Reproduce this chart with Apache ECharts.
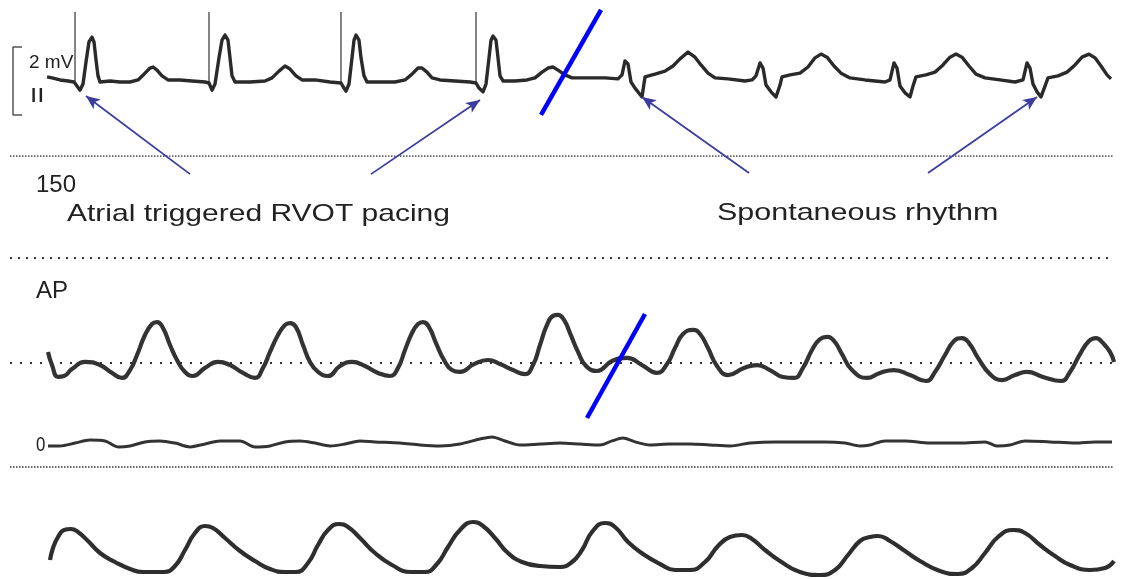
<!DOCTYPE html>
<html><head><meta charset="utf-8">
<style>html,body{margin:0;padding:0;background:#fff}#c{width:1124px;height:579px}</style>
<script src="https://cdn.jsdelivr.net/npm/echarts@6/dist/echarts.min.js"></script>
</head><body><div id="c"></div>
<script>
// ---- ECG lead II: [time (samples), mV]
const ecgTrace = [[47,0.18],[52,0.15],[60,0.09],[68,0.06],[74,0.03],[77,-0.09],[80,-0.21],[83,-0.03],[86,0.62],[89,1.21],[92,1.35],[94,1.21],[96,0.68],[98,0.21],[100,0.03],[110,0.06],[120,0.03],[130,0.03],[138,0.09],[144,0.26],[150,0.44],[153,0.47],[157,0.38],[162,0.21],[168,0.09],[180,0.09],[192,0.06],[205,0.03],
[209,0],[212,-0.21],[215,-0.03],[219,0.74],[222,1.26],[225,1.41],[228,1.26],[230,0.74],[232,0.21],[235,0.03],[250,0.03],[265,0.06],[272,0.15],[279,0.35],[285,0.50],[290,0.41],[296,0.21],[302,0.09],[315,0.09],[330,0.03],
[341,0],[344,-0.15],[346,-0.24],[349,-0.03],[352,0.74],[354,1.26],[356,1.41],[359,1.26],[361,0.74],[364,0.21],[367,0.03],[380,0.03],[395,0.03],[405,0.09],[412,0.26],[418,0.44],[422,0.44],[427,0.32],[432,0.15],[440,0.09],[455,0.06],[470,0.03],
[476,0],[479,-0.15],[483,-0.26],[486,-0.03],[489,0.74],[491,1.26],[493,1.38],[496,1.26],[498,0.74],[500,0.21],[503,0.06],[515,0.06],[527,0.09],[535,0.15],[542,0.32],[548,0.44],[553,0.47],[558,0.38],[565,0.24],[572,0.15],[590,0.15],[605,0.15],
[618,0.12],[622,0.24],[625,0.65],[628,0.56],[631,0.03],[635,-0.15],[642,-0.41],[645,0.18],[655,0.26],[665,0.35],[673,0.50],[680,0.71],[688,0.91],[695,0.76],[701,0.53],[708,0.29],[715,0.15],[728,0.12],[745,0.06],
[752,0.09],[756,0.21],[760,0.59],[763,0.44],[766,-0.06],[771,-0.26],[776,-0.41],[780,-0.06],[782,0.18],[790,0.24],[800,0.29],[808,0.47],[815,0.74],[821,0.85],[827,0.76],[834,0.50],[841,0.29],[850,0.15],[865,0.09],[885,0.03],
[890,0.09],[894,0.59],[897,0.44],[900,-0.09],[905,-0.29],[910,-0.41],[913,-0.09],[916,0.18],[926,0.24],[935,0.32],[943,0.53],[950,0.76],[956,0.85],[962,0.76],[969,0.50],[976,0.26],[985,0.15],[1000,0.09],[1015,0.03],
[1023,0.09],[1027,0.59],[1030,0.44],[1033,-0.03],[1037,-0.26],[1041,-0.41],[1045,-0.09],[1048,0.15],[1058,0.21],[1067,0.32],[1075,0.53],[1082,0.76],[1089,0.85],[1095,0.74],[1101,0.50],[1107,0.24],[1111,0.12]];
const pacingTimes = [75, 209, 341, 476];
const pacingSpikeMv = 2.09;
const scaleBar = [[22,1.06],[13,1.06],[13,-0.94],[22,-0.94]];

// ---- Arterial pressure: [time, mmHg]
const apTrace = [[48,48.3],[52,41.5],[58,35.3],[64,35.8],[72,39.4],[85,43.1],[100,41.5],[112,37.4],[122,34.8],[130,38.9],[137,46.7],[145,57.1],[152,62.8],[157,63.8],[163,60.7],[170,51.9],[177,44.1],[185,37.9],[193,35.8],[205,40.0],[218,43.1],[230,41.5],[243,37.4],[255,34.8],
[263,40.0],[270,48.3],[278,57.1],[285,62.3],[290,63.3],[296,61.2],[303,51.9],[310,43.1],[318,37.9],[328,35.8],[340,41.0],[352,43.1],[365,41.0],[378,37.4],[390,35.8],
[398,40.0],[405,49.3],[412,58.1],[418,62.8],[423,63.8],[429,61.2],[436,52.9],[444,44.1],[452,38.9],[460,37.9],[474,42.0],[488,44.1],[500,42.0],[513,38.9],[525,36.8],
[533,41.5],[540,51.9],[547,62.3],[553,67.0],[558,67.5],[564,64.9],[570,58.1],[578,48.3],[586,41.0],[597,38.4],[612,43.6],[627,45.2],[642,41.5],[657,37.4],
[667,42.0],[675,50.3],[683,57.6],[693,59.7],[700,57.6],[708,50.3],[717,41.0],[728,36.3],[744,40.0],[757,41.5],[770,38.9],[783,35.3],[794,34.8],
[803,40.0],[812,49.3],[820,55.0],[827,56.1],[834,54.0],[842,47.2],[852,38.9],[867,34.8],[880,37.4],[894,38.9],[910,36.3],[926,33.2],
[935,37.9],[945,46.7],[954,54.0],[962,55.5],[969,52.9],[978,45.2],[990,36.8],[1002,33.7],[1015,36.3],[1027,37.9],[1043,35.3],[1061,33.2],
[1070,37.9],[1080,47.2],[1089,54.0],[1096,55.5],[1103,52.9],[1110,48.3],[1114,43.1]];
const apZeroTrace = [[48,-0.5],[60,-0.5],[75,1.0],[90,2.6],[105,2.1],[118,-1.0],[130,-0.5],[145,1.6],[160,2.1],[175,1.0],[190,-1.0],[205,0.5],[220,2.1],[240,2.1],[255,-1.0],[270,-0.5],[285,1.6],[300,2.1],[315,1.0],[330,-0.5],[345,0.5],[360,2.1],[375,1.6],[400,1.0],[420,0],[440,-0.5],[460,0.5],[480,3.1],[492,4.2],[505,2.1],[520,0],[540,0.5],[560,1.0],[580,0.5],[600,0],[612,2.1],[623,3.6],[635,1.6],[650,0],[670,0.5],[690,0.5],[710,0],[730,-0.5],[750,1.0],[775,1.6],[800,1.6],[825,1.6],[845,1.0],[860,-0.5],[870,0],[885,2.1],[905,2.1],[930,1.0],[960,1.0],[985,1.6],[997,-0.5],[1010,0],[1025,2.1],[1050,1.6],[1075,1.0],[1095,1.6],[1112,1.6]];
const refLevels = [150, 97, 42.6, -11.4];

// ---- Lower trace: [time, units]
const lowTrace = [[50,19],[53,31],[58,42],[64,49],[71,50],[78,47],[88,38],[100,26],[115,17],[130,10],[143,7],[164,7],[175,13],[185,29],[195,46],[205,53],[213,51],[225,41],[240,28],[255,18],[270,10],[285,7],[296,7],[308,16],[318,34],[328,49],[339,55],[348,52],[360,41],[375,26],[392,14],[411,7],[425,7],[437,15],[448,32],[460,49],[473,57],[483,53],[495,41],[508,26],[522,17],[540,13],[560,12],[572,17],[582,29],[592,47],[605,56],[615,52],[628,37],[643,25],[660,15],[675,9],[690,9],[705,17],[718,33],[730,42],[742,44],[752,40],[765,29],[780,18],[800,7],[820,4],[835,9],[848,24],[860,38],[870,42],[878,43],[890,38],[905,28],[920,18],[940,8],[958,5],[972,11],[985,26],[998,42],[1013,49],[1025,46],[1040,34],[1055,23],[1070,14],[1090,9],[1105,11],[1114,18]];

// ---- Annotations
const arrows = [ {tail:[190,-2.68], head:[86,-0.38]}, {tail:[371,-2.68], head:[480,-0.50]},
                 {tail:[749,-2.65], head:[642,-0.41]}, {tail:[928,-2.65], head:[1037,-0.41]} ];
const ecgSlash = [[541,-0.94],[601,2.15]];
const apSlash = [[587,14.0],[645,68.0]];

const FONT = 'Liberation Sans, Arial, Helvetica, sans-serif';
const INK = '#2a2a2a';
const chart = echarts.init(document.getElementById('c'), null, {renderer:'canvas'});
const xAx = gi => ({type:'value', gridIndex:gi, min:0, max:1124, show:false});
const spikeData = [];
pacingTimes.forEach(t => { spikeData.push([t, 0]); spikeData.push([t, pacingSpikeMv]); spikeData.push([t, '-']); });
const refStyles = [{type:[1.5,1.5],width:1.6},{type:[2,6],width:2},{type:[2,8],width:2},{type:[1.5,1.5],width:1.6}];
const refSeries = refLevels.map((lv,i) => ({type:'line', xAxisIndex:1, yAxisIndex:1, symbol:'none', silent:true,
  data:[[10,lv],[1114,lv]], lineStyle:Object.assign({color:'#333'}, refStyles[i]), z:1}));
const txt = (text, x, y, size, sx, extra) => Object.assign({type:'text', x:x, y:y, scaleX:sx||1, z:0,
  style:{text:text, fontSize:size, fontFamily:FONT, fill:'#222', align:'left', verticalAlign:'middle'}}, extra||{});

chart.setOption({
  animation:false,
  backgroundColor:'#ffffff',
  grid:[{left:0,right:0,top:1.4,height:183.6},{left:0,right:0,top:156,height:312.1},{left:0,right:0,top:479,height:100}],
  xAxis:[xAx(0),xAx(1),xAx(2)],
  yAxis:[{type:'value',gridIndex:0,min:-3,max:2.4,show:false},
         {type:'value',gridIndex:1,min:-12,max:150,show:false},
         {type:'value',gridIndex:2,min:0,max:100,show:false}],
  graphic:[
    txt('2 mV', 29, 63, 19, 1),
    txt('II', 30, 96, 20, 1.3),
    txt('150', 36, 185, 24, 1),
    txt('Atrial triggered RVOT pacing', 67, 214, 24, 1.25),
    txt('Spontaneous rhythm', 717, 213, 24, 1.27),
    txt('AP', 36, 291, 24, 1),
    txt('0', 36, 445, 21, 0.8)
  ],
  series:[
    ...refSeries,
    {name:'scale', type:'line', xAxisIndex:0, yAxisIndex:0, symbol:'none', silent:true, data:scaleBar,
     lineStyle:{color:'#555', width:1.5}},
    {name:'pacing', type:'line', xAxisIndex:0, yAxisIndex:0, symbol:'none', silent:true, connectNulls:false, data:spikeData,
     lineStyle:{color:'#333', width:1.2}},
    {name:'ECG II', type:'line', xAxisIndex:0, yAxisIndex:0, symbol:'none', silent:true, data:ecgTrace,
     lineStyle:{color:INK, width:3.4, join:'round'}, z:3,
     markLine:{silent:true, symbol:['none','arrow'], symbolSize:[9,14], label:{show:false},
       lineStyle:{color:'#3c3c9e', width:1.8, type:'solid'},
       data: arrows.map(a => [{coord:a.tail},{coord:a.head}])}},
    {name:'ecgSlash', type:'line', xAxisIndex:0, yAxisIndex:0, symbol:'none', silent:true, data:ecgSlash,
     lineStyle:{color:'#0000ff', width:4.5}, z:4},
    {name:'AP', type:'line', xAxisIndex:1, yAxisIndex:1, symbol:'none', silent:true, smooth:0.5, data:apTrace,
     lineStyle:{color:'#333', width:4.2}, z:3},
    {name:'AP zero', type:'line', xAxisIndex:1, yAxisIndex:1, symbol:'none', silent:true, smooth:0.3, data:apZeroTrace,
     lineStyle:{color:'#333', width:3}, z:3},
    {name:'apSlash', type:'line', xAxisIndex:1, yAxisIndex:1, symbol:'none', silent:true, data:apSlash,
     lineStyle:{color:'#0000ff', width:4.5}, z:4},
    {name:'lower', type:'line', xAxisIndex:2, yAxisIndex:2, symbol:'none', silent:true, smooth:0.5, data:lowTrace,
     lineStyle:{color:'#2e2e2e', width:4.2}, z:3}
  ]
});
</script></body></html>
